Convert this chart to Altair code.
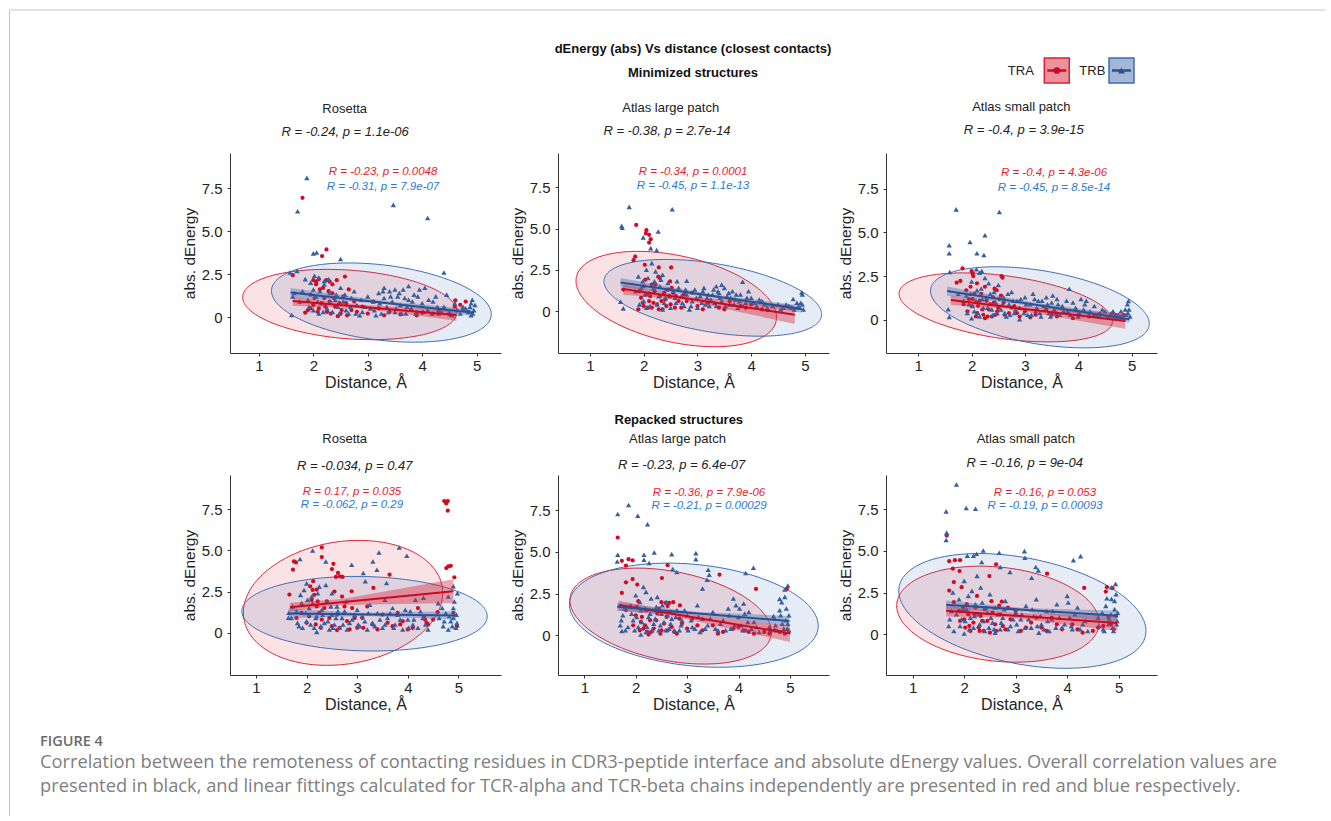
import numpy as np
import pandas as pd
import altair as alt

FONT = "Liberation Sans"
CAP_FONT = "Open Sans"

# ---------------- data ----------------
series = ["TRA", "TRB"]
panel_titles = ["Rosetta", "Atlas  large patch", "Atlas small patch",
                "Rosetta", "Atlas  large patch", "Atlas small patch"]
overall_r = ["R = -0.24, p = 1.1e-06", "R = -0.38, p = 2.7e-14", "R = -0.4, p = 3.9e-15",
             "R = -0.034, p = 0.47", "R = -0.23, p = 6.4e-07", "R = -0.16, p = 9e-04"]
tra_r = ["R = -0.23, p = 0.0048", "R = -0.34, p = 0.0001", "R = -0.4, p = 4.3e-06",
         "R = 0.17, p = 0.035", "R = -0.36, p = 7.9e-06", "R = -0.16, p = 0.053"]
trb_r = ["R = -0.31, p = 7.9e-07", "R = -0.45, p = 1.1e-13", "R = -0.45, p = 8.5e-14",
         "R = -0.062, p = 0.29", "R = -0.21, p = 0.00029", "R = -0.19, p = 0.00093"]

x_ticks = [1, 2, 3, 4, 5]
y_ticks = [0, 2.5, 5, 7.5]
x_domains = [(0.467, 5.449), (0.405, 5.447), (0.395, 5.475),
             (0.486, 5.842), (0.488, 5.760), (0.482, 5.744)]
y_domains = [(-2.093, 9.535), (-2.545, 9.576), (-1.886, 9.543),
             (-2.571, 9.587), (-2.377, 9.599), (-2.437, 9.539)]

# points (distance, abs dEnergy)
tra_p1 = [(1.80,6.93),(2.24,3.93),(2.16,3.54),(2.58,2.35),(2.24,2.14),(2.43,2.14),(2.0,2.14),(2.1,2.2),
          (2.35,1.38),(1.85,0.25),(4.61,0.97),(1.62,2.43),(2.05,1.9),(2.12,1.6),(2.2,1.1),(2.3,0.9),
          (2.0,0.7),(2.1,0.5),(2.25,0.3),(2.4,0.6),(2.5,0.2),(2.6,0.8),(2.7,0.4),(2.55,1.2),(2.8,0.3),
          (2.9,0.6),(3.0,0.2),(3.2,0.5),(3.4,0.3),(3.6,0.15),(3.8,0.4),(4.0,0.25),(4.2,0.2),(4.4,0.5),
          (4.6,0.6),(4.7,0.7),(4.8,0.9),(4.85,0.3),(1.95,1.3),(2.15,0.8),(2.35,1.9),(1.9,0.4),
          (2.45,0.05),(3.1,0.9),(2.65,1.6),(4.75,0.45),
          (1.95,0.5),(2.02,1.1),(2.08,0.3),(2.18,1.7),(2.22,0.6),(2.28,1.5),(2.32,0.2),(2.38,1.1),
          (2.48,0.8),(2.52,0.4),(2.62,0.1),(2.75,0.9),(2.05,2.05),(2.3,2.05),(3.3,0.1),(3.9,0.1),
          (4.3,0.35),(4.5,0.15)]
trb_p1 = [(1.88,8.09),(1.71,6.15),(3.47,6.52),(4.1,5.76),(2.0,3.70),(2.06,3.75),(2.50,3.37),(1.57,2.59),
          (1.70,2.68),(4.4,2.59),(1.6,0.12),(1.95,2.0),(2.0,1.6),(2.05,1.2),(2.1,2.3),(2.15,0.8),
          (2.2,1.9),(2.25,0.5),(2.3,1.4),(2.35,0.3),(2.4,1.0),(2.45,0.6),(2.5,1.7),(1.9,1.0),(2.0,0.4),
          (2.1,0.2),(2.2,2.1),(2.3,0.9),(2.6,0.4),(2.7,1.1),(2.8,0.7),(2.9,0.3),(3.0,1.2),(3.05,0.5),
          (3.1,0.9),(3.2,1.4),(3.25,0.2),(3.3,1.1),(3.35,0.6),(3.4,1.5),(3.45,0.9),(3.5,0.3),(3.55,1.2),
          (3.6,0.7),(3.65,1.6),(3.7,0.2),(3.75,1.0),(3.8,0.5),(3.85,1.3),(3.9,0.3),(4.0,0.8),(4.05,1.7),
          (4.1,0.4),(4.2,0.9),(4.3,0.2),(4.4,0.6),(4.5,0.3),(4.6,0.8),(4.7,0.2),(4.8,0.5),(4.9,0.1),
          (4.92,1.0),(4.95,0.4),(4.97,0.7),(4.9,0.8),(3.3,1.7),(3.5,1.6),(3.75,1.8),(3.95,1.6),
          (2.55,0.9),(2.65,0.2),(2.75,1.5),(1.8,1.5),(1.65,1.4),(2.85,0.1),(3.15,0.1),(4.45,1.3),(4.25,1.2),
          (1.62,1.2),(1.75,0.9),(1.85,2.2),(1.92,0.6),(2.02,2.4),(2.08,0.9),(2.12,1.5),(2.18,0.3),
          (2.28,2.2),(2.42,1.3),(2.48,0.2),(2.58,1.3),(2.68,0.6),(2.78,0.2),(2.88,1.0),(2.95,0.6),
          (3.12,0.4),(3.22,0.8),(3.28,1.5),(3.38,0.3),(3.42,1.2),(3.52,0.5),(3.58,1.4),(3.62,0.2),
          (3.68,1.1),(3.72,0.6),(3.82,0.9),(3.88,0.2),(3.92,1.2),(4.02,0.3),(4.12,1.0),(4.18,0.2),
          (4.28,0.6),(4.35,0.3),(4.55,0.1),(4.65,0.4),(4.75,0.6),(4.85,0.3),(4.88,0.6),(4.93,0.2)]

tra_p2 = [(1.86,5.22),(2.05,4.9),(2.04,4.7),(2.1,4.62),(2.13,4.35),(2.1,4.15),(1.84,3.29),(1.81,3.08),
          (2.02,2.8),(2.28,2.64),(2.51,2.64),(2.27,2.08),(2.49,1.79),(1.62,1.3),(2.0,1.5),(2.05,1.0),
          (2.1,0.6),(2.15,0.2),(2.2,1.2),(2.25,0.4),(2.3,0.9),(2.35,0.1),(2.4,0.7),(2.0,0.3),(1.95,0.8),
          (2.45,1.3),(2.5,0.4),(2.6,0.9),(2.7,0.2),(2.8,0.6),(2.9,1.1),(3.0,0.3),(3.2,0.5),(3.4,0.2),
          (3.6,0.6),(3.8,0.3),(4.0,0.4),(4.2,0.1),(4.4,0.3),(4.6,0.2),(4.8,0.1),(2.15,1.6),(2.3,2.0),
          (1.9,0.1),(2.55,1.1),
          (1.92,1.2),(1.98,0.5),(2.03,1.9),(2.08,0.2),(2.12,0.9),(2.18,0.5),(2.22,1.6),(2.28,0.1),
          (2.33,0.6),(2.38,1.1),(2.42,0.3),(2.48,0.9),(2.52,1.4),(2.58,0.2),(2.65,0.6),(2.75,1.0),
          (3.1,0.1),(3.5,0.1),(3.9,0.2),(4.3,0.05),(4.7,0.25)]
trb_p2 = [(1.73,6.31),(2.53,6.17),(1.59,5.16),(1.6,5.05),(2.27,4.82),(1.99,4.46),(2.13,3.81),(2.24,3.69),
          (1.57,0.56),(1.62,0.16),(2.8,1.83),(3.84,1.77),(4.94,1.13),(4.78,0.73),(4.95,1.0),(1.9,2.1),
          (1.95,1.4),(2.0,0.6),(2.05,2.5),(2.1,1.1),(2.15,2.9),(2.2,1.8),(2.25,0.4),(2.3,1.5),(2.35,2.2),
          (2.4,0.8),(2.45,1.7),(2.5,0.2),(2.55,1.2),(2.6,0.5),(2.65,1.4),(2.7,0.9),(2.75,0.3),(2.8,1.0),
          (2.9,0.6),(2.95,1.3),(3.0,0.2),(3.05,0.9),(3.1,1.2),(3.15,0.4),(3.2,1.0),(3.25,0.7),(3.3,1.3),
          (3.35,0.3),(3.4,1.1),(3.45,0.6),(3.5,1.4),(3.55,0.9),(3.6,0.4),(3.65,1.2),(3.7,0.7),(3.75,0.2),
          (3.8,1.0),(3.9,0.5),(4.0,0.8),(4.1,0.3),(4.2,0.6),(4.3,0.2),(4.5,0.4),(4.6,0.2),(4.7,0.3),
          (4.8,0.1),(4.85,0.5),(4.9,0.2),(4.95,0.4),(4.97,0.1),(3.35,1.5),(3.45,1.6),(2.05,0.2),(2.35,0.1),
          (2.85,0.1),(3.95,1.2),
          (1.85,1.2),(1.92,0.4),(1.98,1.8),(2.02,1.0),(2.08,2.0),(2.12,0.3),(2.18,1.4),(2.22,2.4),
          (2.28,0.9),(2.32,1.9),(2.38,0.5),(2.42,1.3),(2.48,0.9),(2.58,0.8),(2.62,1.8),(2.72,0.5),
          (2.78,1.3),(2.88,0.3),(2.98,0.8),(3.08,0.5),(3.12,1.4),(3.18,0.8),(3.22,0.3),(3.28,1.0),
          (3.32,0.5),(3.38,1.2),(3.42,0.8),(3.52,0.3),(3.58,1.1),(3.62,0.8),(3.68,0.4),(3.72,1.0),
          (3.78,0.6),(3.85,0.3),(3.92,0.8),(4.05,0.5),(4.15,0.7),(4.25,0.4),(4.4,0.3),(4.55,0.1),
          (4.65,0.4),(4.75,0.2),(4.88,0.3),(4.92,0.5)]

tra_p3 = [(1.83,2.95),(2.0,2.8),(2.02,2.65),(2.03,2.51),(2.56,2.51),(2.58,2.42),(2.43,1.79),(2.47,1.7),
          (1.79,2.23),(1.72,2.13),(4.63,0.36),(1.9,1.7),(1.95,1.2),(2.0,0.8),(2.05,1.5),(2.1,0.4),
          (2.15,1.1),(2.2,0.6),(2.25,1.9),(2.3,0.2),(2.35,0.9),(2.4,1.3),(2.45,0.3),(2.5,0.7),(2.6,1.0),
          (2.7,0.4),(2.8,0.8),(2.9,0.2),(3.0,0.5),(3.2,0.3),(3.4,0.6),(3.6,0.2),(3.8,0.4),(4.0,0.3),
          (4.2,0.2),(4.4,0.35),(4.7,0.3),(4.8,0.2),(2.1,2.1),(1.85,0.9),(2.25,0.1),(2.55,1.4),
          (1.92,0.5),(1.98,1.9),(2.02,1.2),(2.08,0.2),(2.12,0.8),(2.18,1.5),(2.22,0.3),(2.28,1.1),
          (2.32,0.6),(2.38,0.2),(2.42,1.0),(2.48,0.5),(2.52,1.2),(2.62,0.3),(2.75,0.7),(2.85,0.4),
          (3.1,0.15),(3.5,0.3),(3.9,0.1),(4.3,0.25),(4.55,0.15),(4.85,0.3)]
trb_p3 = [(1.71,6.32),(2.52,6.17),(1.58,4.27),(1.58,3.81),(2.25,4.84),(1.97,4.46),(2.1,3.81),(2.23,3.71),
          (1.56,0.61),(1.58,0.17),(3.83,1.79),(4.94,1.09),(2.09,2.9),(2.19,2.8),(1.59,2.74),(1.9,1.4),
          (1.95,0.9),(2.0,2.2),(2.05,0.5),(2.1,1.7),(2.15,0.2),(2.2,1.2),(2.25,2.4),(2.3,0.7),(2.35,1.5),
          (2.4,0.3),(2.45,1.0),(2.5,2.0),(2.55,0.6),(2.6,1.3),(2.65,0.2),(2.7,0.9),(2.75,1.6),(2.8,0.4),
          (2.85,1.1),(2.9,0.7),(3.0,1.3),(3.05,0.3),(3.1,0.9),(3.15,1.5),(3.2,0.5),(3.25,1.1),(3.3,0.2),
          (3.35,0.8),(3.4,1.3),(3.45,0.4),(3.5,1.0),(3.55,0.6),(3.6,1.2),(3.65,0.3),(3.7,0.8),(3.8,0.5),
          (3.9,1.0),(4.0,0.2),(4.05,1.2),(4.1,0.6),(4.2,0.3),(4.3,0.8),(4.4,0.2),(4.5,0.5),(4.6,0.3),
          (4.7,0.2),(4.8,0.5),(4.85,0.1),(4.9,0.3),(4.95,0.6),(4.97,0.2),(4.92,0.9),(2.15,2.7),(1.75,1.5),
          (2.0,0.1),(2.9,0.05),(4.15,1.1),
          (1.85,1.1),(1.92,0.4),(1.98,1.5),(2.02,0.8),(2.08,1.1),(2.12,0.4),(2.18,1.8),(2.22,0.7),
          (2.28,1.3),(2.32,2.1),(2.38,0.6),(2.42,1.6),(2.48,0.4),(2.58,0.9),(2.62,0.4),(2.68,1.5),
          (2.72,0.3),(2.78,1.1),(2.82,0.6),(2.92,1.2),(2.98,0.4),(3.02,0.9),(3.12,0.3),(3.18,1.2),
          (3.22,0.7),(3.28,0.4),(3.32,1.1),(3.38,0.6),(3.42,0.9),(3.48,0.2),(3.52,1.4),(3.58,0.4),
          (3.62,0.9),(3.72,0.5),(3.78,1.1),(3.85,0.3),(3.95,0.7),(4.02,0.4),(4.12,0.9),(4.22,0.5),
          (4.35,0.3),(4.45,0.6),(4.55,0.2),(4.65,0.5),(4.75,0.3),(4.82,0.15),(4.88,0.6),(4.93,0.4)]

tra_p4 = [(4.72,8.0),(4.79,8.0),(4.76,7.86),(4.79,7.42),(4.8,4.03),(4.85,4.07),(4.76,3.93),(4.92,3.37),
          (2.30,5.18),(2.3,4.6),(1.75,4.33),(1.79,4.27),(1.73,3.83),(2.53,4.19),(2.5,3.87),(2.62,3.63),
          (2.66,3.43),(2.71,3.39),(2.58,3.39),(3.64,3.53),(3.32,2.72),(2.89,2.52),(2.13,3.13),(2.07,2.82),
          (2.2,2.62),(1.66,2.32),(4.59,1.25),(4.32,1.0),(4.34,0.8),(4.37,0.6),(3.85,0.5),(3.12,0.3),
          (2.6,0.16),(4.97,0.4),(2.1,2.0),(2.2,1.6),(2.15,2.3),(2.25,1.2),(2.3,0.8),(2.4,1.9),(2.5,0.4),
          (2.6,1.1),(2.7,2.2),(2.8,0.7),(2.9,1.5),(3.0,0.3),(3.1,0.9),(3.3,0.5),(3.5,1.1),(3.7,0.4),
          (3.9,0.7),(4.1,0.3),(4.2,1.5),(1.9,1.2),(2.0,0.6),(1.8,0.9),
          (2.05,1.0),(2.12,2.6),(2.18,0.5),(2.22,1.9),(2.28,0.3),(2.35,1.5),(2.45,0.9),(2.55,2.5),
          (2.65,0.3),(2.75,1.6),(2.85,0.2),(2.95,0.9),(3.2,1.6),(3.4,0.2),(3.6,0.6),(3.8,1.2),
          (4.0,0.2),(4.4,0.5),(4.5,0.8),(4.9,1.2)]
trb_p4 = [(2.12,5.0),(2.38,4.33),(1.87,4.48),(3.43,4.88),(3.83,5.18),(3.98,4.68),(3.31,4.33),(3.39,3.83),
          (3.12,3.63),(2.89,4.13),(3.16,3.13),(3.58,3.02),(4.31,2.12),(4.9,2.82),(1.64,0.91),(1.65,1.21),
          (1.7,0.9),(1.8,1.3),(1.85,0.4),(1.9,1.8),(1.95,2.6),(2.0,0.7),(2.05,1.5),(2.1,2.2),(2.15,0.3),
          (2.2,1.0),(2.25,2.8),(2.3,1.4),(2.35,0.6),(2.4,1.9),(2.45,0.2),(2.5,1.1),(2.55,0.5),(2.6,1.6),
          (2.65,0.3),(2.7,0.9),(2.75,1.3),(2.8,0.2),(2.9,0.8),(3.0,1.4),(3.05,0.4),(3.1,1.0),(3.2,0.2),
          (3.25,1.7),(3.3,0.6),(3.4,1.2),(3.5,0.3),(3.6,0.9),(3.7,1.5),(3.75,0.5),(3.8,1.1),(3.9,0.2),
          (4.0,0.8),(4.05,1.3),(4.1,0.5),(4.15,2.0),(4.2,0.3),(4.3,0.9),(4.4,0.2),(4.6,1.8),(4.7,0.4),
          (4.75,1.2),(4.8,2.2),(4.85,0.7),(4.9,1.5),(4.95,0.3),(4.98,2.4),(4.9,0.9),(4.8,0.2),(2.2,0.05),
          (2.5,2.4),(3.55,2.0),(2.0,3.0),
          (1.72,1.6),(1.82,0.6),(1.88,2.3),(1.92,0.3),(1.98,1.2),(2.02,2.0),(2.08,0.5),(2.12,1.8),
          (2.18,0.9),(2.22,2.4),(2.28,0.4),(2.32,1.1),(2.38,2.9),(2.42,0.7),(2.48,1.6),(2.52,0.3),
          (2.58,0.9),(2.62,1.3),(2.72,0.5),(2.78,1.9),(2.85,0.6),(2.95,1.1),(3.02,0.5),(3.15,0.7),
          (3.22,1.2),(3.35,0.4),(3.45,0.8),(3.55,0.5),(3.65,1.2),(3.72,0.3),(3.85,0.8),(3.95,1.4),
          (4.02,0.3),(4.12,0.8),(4.25,1.3),(4.35,0.5),(4.62,0.9),(4.68,1.5),(4.72,0.7),(4.82,1.0),
          (4.88,0.4),(4.92,1.9),(4.96,1.1),(4.97,0.6)]

tra_p5 = [(1.65,5.85),(1.73,4.46),(1.86,4.56),(1.94,4.48),(1.81,4.17),(2.62,4.2),(2.51,3.43),(3.63,3.63),
          (4.34,2.78),(4.94,2.78),(1.81,3.17),(1.94,3.37),(2.03,3.04),(1.73,2.54),(2.05,2.04),(2.5,1.98),
          (2.58,1.94),(2.65,1.94),(2.73,1.98),(2.86,1.79),(2.62,1.75),(1.81,1.51),(2.0,1.2),(2.1,0.8),
          (2.15,0.4),(2.2,1.5),(2.3,0.2),(2.4,0.9),(2.5,0.3),(2.6,1.1),(2.7,0.5),(2.8,0.1),(2.9,0.7),
          (3.0,0.4),(3.1,1.0),(3.3,0.3),(3.5,0.6),(3.7,0.2),(3.9,0.4),(4.1,0.3),(4.3,0.1),(4.5,0.2),
          (4.7,0.3),(4.9,0.1),(2.45,1.6),(2.25,0.05),
          (1.95,0.6),(2.02,1.7),(2.08,0.3),(2.12,1.1),(2.18,0.6),(2.22,0.2),(2.28,0.9),(2.35,0.4),
          (2.42,1.3),(2.48,0.1),(2.55,0.7),(2.62,0.3),(2.68,1.4),(2.75,0.2),(2.85,1.0),(3.2,0.6),
          (3.6,0.1),(4.0,0.5),(4.2,0.2),(4.6,0.1),(4.8,0.2)]
trb_p5 = [(1.86,7.8),(1.65,7.26),(2.04,7.16),(2.23,6.65),(1.65,4.82),(1.64,4.42),(2.16,4.52),(2.36,4.96),
          (2.70,4.86),(3.17,4.92),(3.17,4.56),(2.16,4.82),(2.26,4.33),(2.72,3.97),(2.8,3.79),(3.41,3.93),
          (3.43,3.63),(3.39,3.33),(3.3,2.8),(4.14,3.73),(4.29,4.05),(4.96,2.98),(4.9,2.74),(4.8,2.18),
          (4.84,1.98),(4.68,1.15),(1.73,0.26),(1.7,0.6),(1.75,1.2),(1.8,0.3),(1.9,1.8),(1.95,0.9),
          (2.0,2.4),(2.05,0.5),(2.1,1.5),(2.15,2.9),(2.2,0.2),(2.25,1.1),(2.3,2.2),(2.35,0.7),(2.4,1.7),
          (2.45,0.3),(2.5,1.3),(2.55,0.8),(2.6,2.0),(2.65,0.4),(2.7,1.0),(2.8,1.5),(2.85,0.3),(2.9,0.9),
          (3.0,1.2),(3.1,0.5),(3.2,1.8),(3.25,0.2),(3.3,1.0),(3.4,0.6),(3.5,1.4),(3.6,0.3),(3.7,0.9),
          (3.8,1.6),(3.85,0.4),(3.9,2.2),(4.0,1.1),(4.05,0.6),(4.1,1.9),(4.15,0.3),(4.2,1.4),(4.3,0.8),
          (4.4,0.2),(4.6,0.5),(4.7,1.0),(4.75,0.3),(4.8,1.5),(4.85,0.7),(4.9,2.3),(4.95,0.4),(4.98,1.2),
          (4.92,0.9),(4.97,0.2),(2.2,2.6),(2.1,0.05),(3.95,1.8),
          (1.72,0.9),(1.78,1.6),(1.85,0.5),(1.92,1.3),(1.98,0.3),(2.02,1.1),(2.08,2.0),(2.12,0.8),
          (2.18,1.6),(2.22,0.5),(2.28,1.3),(2.32,0.3),(2.38,1.0),(2.42,2.3),(2.48,0.6),(2.52,1.8),
          (2.58,0.3),(2.62,1.2),(2.68,0.7),(2.75,0.3),(2.78,1.1),(2.88,0.6),(2.95,1.5),(3.02,0.3),
          (3.08,0.9),(3.15,0.4),(3.22,1.1),(3.35,0.4),(3.45,1.0),(3.55,0.4),(3.65,0.7),(3.75,0.3),
          (3.82,1.2),(3.92,0.6),(4.02,1.6),(4.08,0.3),(4.12,1.3),(4.18,0.8),(4.25,0.4),(4.35,0.5),
          (4.62,0.3),(4.72,0.6),(4.82,1.2),(4.88,0.4),(4.93,1.6),(4.96,0.7),(4.98,0.3)]

tra_p6 = [(1.66,5.91),(1.71,4.38),(1.82,4.44),(1.92,4.44),(1.78,3.93),(1.91,3.79),(2.62,4.19),(2.49,3.49),
          (3.61,3.63),(4.33,2.78),(4.77,2.82),(4.75,2.56),(4.88,2.76),(1.8,3.13),(1.95,2.82),(1.71,2.62),
          (1.8,1.92),(2.53,1.98),(2.73,1.96),(2.68,1.71),(1.9,1.4),(2.0,0.9),(2.05,1.8),(2.1,0.5),
          (2.2,1.2),(2.3,0.2),(2.35,0.8),(2.4,1.5),(2.5,0.1),(2.6,0.6),(2.7,1.2),(2.8,0.3),(2.9,0.9),
          (3.0,1.4),(3.1,0.2),(3.3,0.7),(3.5,0.4),(3.7,1.0),(3.9,0.3),(4.1,0.6),(4.3,0.1),(4.5,0.2),
          (4.7,0.5),(4.9,0.3),(4.8,1.0),(2.25,2.3),
          (1.92,0.8),(1.98,1.6),(2.02,0.4),(2.08,1.2),(2.12,0.2),(2.18,0.7),(2.22,1.6),(2.28,0.4),
          (2.32,1.1),(2.38,0.2),(2.45,0.8),(2.55,1.3),(2.62,0.2),(2.75,0.5),(2.85,1.6),(3.2,0.4),
          (3.4,1.0),(3.6,0.2),(3.8,0.6),(4.2,0.3),(4.6,0.4),(4.85,0.6),(4.95,1.1)]
trb_p6 = [(1.85,8.97),(1.65,7.36),(2.04,7.56),(2.22,7.52),(1.66,6.09),(1.65,5.65),(2.37,5.02),(3.17,4.98),
          (2.68,4.88),(2.06,4.7),(2.18,4.7),(2.24,4.82),(3.18,4.58),(4.12,4.44),(4.26,4.68),(2.34,4.33),
          (2.7,4.03),(2.89,3.73),(3.39,4.03),(3.44,3.83),(3.31,3.39),(4.94,3.02),(4.86,2.82),(4.77,2.16),
          (4.86,2.12),(1.7,0.5),(1.75,1.4),(1.8,0.2),(1.9,2.1),(1.95,0.9),(2.0,3.2),(2.05,1.5),(2.1,0.3),
          (2.15,2.6),(2.2,1.1),(2.25,3.5),(2.3,0.6),(2.35,1.9),(2.4,0.2),(2.45,1.3),(2.5,2.4),(2.55,0.7),
          (2.6,1.6),(2.7,0.3),(2.75,1.0),(2.8,2.0),(2.9,0.5),(3.0,1.3),(3.05,0.2),(3.1,0.9),(3.2,1.7),
          (3.3,0.4),(3.35,1.1),(3.4,2.1),(3.5,0.6),(3.6,1.4),(3.65,0.2),(3.7,0.9),(3.8,1.8),(3.9,0.4),
          (4.0,2.3),(4.05,1.0),(4.1,0.3),(4.2,1.6),(4.3,0.6),(4.4,0.2),(4.6,1.0),(4.7,0.3),(4.75,1.7),
          (4.8,0.6),(4.85,1.2),(4.9,0.2),(4.95,2.4),(4.97,0.8),(4.92,1.5),(2.0,0.05),(2.6,0.1),(3.45,0.1),
          (1.72,0.9),(1.78,2.5),(1.85,1.2),(1.92,0.5),(1.98,1.5),(2.02,0.8),(2.08,2.3),(2.12,1.0),
          (2.18,0.4),(2.22,1.8),(2.28,1.2),(2.32,2.8),(2.38,0.8),(2.42,1.6),(2.48,0.4),(2.52,1.0),
          (2.58,0.3),(2.65,1.2),(2.72,0.7),(2.78,1.5),(2.85,0.3),(2.95,0.9),(3.02,0.6),(3.12,1.2),
          (3.18,0.4),(3.25,0.9),(3.32,1.5),(3.42,0.5),(3.48,1.1),(3.55,0.3),(3.62,0.8),(3.72,1.4),
          (3.78,0.4),(3.85,1.0),(3.95,0.6),(4.02,1.9),(4.08,0.5),(4.15,1.2),(4.25,0.3),(4.35,0.8),
          (4.62,0.5),(4.68,1.3),(4.72,0.2),(4.82,0.9),(4.88,0.4),(4.92,2.0),(4.96,0.6),(4.98,1.3)]

tra_points = [tra_p1, tra_p2, tra_p3, tra_p4, tra_p5, tra_p6]
trb_points = [trb_p1, trb_p2, trb_p3, trb_p4, trb_p5, trb_p6]

# 95% data ellipses: leftmost point, rightmost point, vertical half-height at centre
tra_ellipse = [((0.70, 1.15), (4.64, 0.30), 2.00), ((0.74, 1.83), (4.47, -0.38), 2.67),
               ((0.64, 1.50), (4.64, -0.06), 1.81), ((0.75, 1.21), (4.69, 2.42), 3.75),
               ((0.72, 2.10), (4.64, 0.20), 2.71), ((0.69, 1.71), (4.62, 0.70), 2.83)]
trb_ellipse = [((1.23, 1.52), (5.27, 0.16), 2.20), ((1.26, 1.80), (5.31, -0.20), 2.10),
               ((1.23, 1.66), (5.33, -0.21), 2.12), ((0.72, 1.31), (5.57, 1.00), 2.26),
               ((0.71, 1.85), (5.55, 0.56), 3.05), ((0.73, 2.60), (5.53, 0.20), 3.22)]

# linear fits: (x0, y0, x1, y1) and confidence band at start / middle / end
tra_fit = [(1.62, 0.93, 4.63, 0.12), (1.62, 1.33, 4.81, -0.22), (1.61, 1.14, 4.88, -0.06),
           (1.67, 1.55, 4.90, 2.52), (1.67, 1.81, 5.00, 0.12), (1.65, 1.41, 4.97, 0.67)]
trb_fit = [(1.58, 1.42, 4.95, 0.25), (1.57, 1.73, 4.94, 0.12), (1.54, 1.66, 4.96, 0.04),
           (1.64, 1.17, 4.95, 1.05), (1.64, 1.71, 4.99, 0.85), (1.65, 1.77, 4.97, 1.11)]
tra_band_x = [(1.62, 2.9, 4.63), (1.62, 2.7, 4.81), (1.61, 2.7, 4.88),
              (1.67, 2.7, 4.90), (1.67, 2.8, 5.00), (1.65, 2.9, 4.97)]
tra_band_lo = [(0.66, 0.50, -0.22), (0.99, 0.70, -0.79), (0.86, 0.64, -0.50),
               (1.30, 1.68, 1.80), (1.50, 1.10, -0.40), (1.06, 1.00, 0.20)]
tra_band_hi = [(1.18, 0.70, 0.45), (1.62, 0.92, 0.35), (1.40, 0.86, 0.36),
               (1.82, 2.05, 3.25), (2.08, 1.35, 0.58), (1.76, 1.30, 1.10)]
trb_band_x = [(1.58, 3.3, 4.95), (1.57, 3.2, 4.94), (1.54, 3.2, 4.96),
              (1.64, 3.1, 4.95), (1.64, 3.2, 4.99), (1.65, 3.2, 4.97)]
trb_band_lo = [(1.15, 0.75, 0.05), (1.45, 0.85, -0.10), (1.38, 0.78, -0.16),
               (0.88, 1.02, 0.80), (1.45, 1.20, 0.56), (1.50, 1.35, 0.70)]
trb_band_hi = [(1.69, 0.95, 0.45), (2.00, 1.05, 0.34), (1.92, 0.98, 0.26),
               (1.45, 1.22, 1.30), (1.96, 1.40, 1.16), (2.03, 1.56, 1.42)]

header_title = "dEnergy (abs) Vs distance (closest contacts)"
row_titles = ["Minimized structures", "Repacked structures"]
fig_label = "FIGURE 4"
caption_lines = [
    "Correlation between the remoteness of contacting residues in CDR3-peptide interface and absolute dEnergy values. Overall correlation values are",
    "presented in black, and linear fittings calculated for TCR-alpha and TCR-beta chains independently are presented in red and blue respectively.",
]

# ---------------- styling / layout ----------------
point_color = {"TRA": "#d30a24", "TRB": "#35609f"}
line_color = {"TRA": "#c80a22", "TRB": "#2c5190"}
band_color = {"TRA": "#d8253a", "TRB": "#4a6fae"}
ell_color = {"TRA": "#de2033", "TRB": "#3b6db3"}
text_color = {"TRA": "#ec1b2e", "TRB": "#2b7bd1"}
shape = {"TRA": "circle", "TRB": "triangle-up"}
psize = {"TRA": 18, "TRB": 28}

W, H = 271, 200
title_pos = [(114.7, -43.7, 115.2, -20.7), (112.7, -45.3, 109.0, -22.0), (135.3, -46.0, 137.7, -22.7),
             (114.7, -36.3, 124.7, -9.0), (119.5, -35.7, 123.7, -9.7), (139.8, -36.3, 138.7, -12.3)]
corr_pos = [(153, 19, 34), (135, 19, 33), (168, 20, 35), (122, 17, 30), (151, 18, 31), (159, 18, 31)]


def text_layer(label, x, y, size, color, weight="normal", style="normal", align="center", font=FONT):
    df = pd.DataFrame({"label": [label]})
    return alt.Chart(df).mark_text(
        align=align, baseline="middle", font=font, fontSize=size,
        fontWeight=weight, fontStyle=style, color=color
    ).encode(x=alt.value(x), y=alt.value(y), text="label:N")


def ellipse_df(spec):
    (xl, yl), (xr, yr), b = spec
    cx, cy = (xl + xr) / 2, (yl + yr) / 2
    a = (xr - xl) / 2
    s = (yr - yl) / (xr - xl)
    t = np.linspace(0, np.pi, 121)
    xs = cx + a * np.cos(t)
    mid = cy + s * (xs - cx)
    return pd.DataFrame({"x": xs, "y": mid - b * np.sin(t), "y2": mid + b * np.sin(t)})


def panel(i):
    xs = alt.Scale(domain=list(x_domains[i]), nice=False, zero=False)
    ys = alt.Scale(domain=list(y_domains[i]), nice=False, zero=False)
    xa = alt.Axis(title="Distance, Å", values=x_ticks, grid=False, tickSize=3, labelPadding=2,
                  titlePadding=1, domainColor="#333333", tickColor="#333333", labelColor="#222222",
                  titleColor="#222222", labelFontSize=15, titleFontSize=16, titleFontWeight="normal",
                  labelFont=FONT, titleFont=FONT, format="d", domainWidth=1)
    ya = alt.Axis(title="abs. dEnergy", values=y_ticks, grid=False, tickSize=3, labelPadding=5,
                  titlePadding=4, domainColor="#333333", tickColor="#333333", labelColor="#222222",
                  titleColor="#222222", labelFontSize=15, titleFontSize=15.5, titleFontWeight="normal",
                  labelFont=FONT, titleFont=FONT, domainWidth=1,
                  labelExpr="datum.value === 0 ? '0' : format(datum.value, '.1f')")
    X = alt.X("x:Q", scale=xs, axis=xa)
    Y = alt.Y("y:Q", scale=ys, axis=ya)

    layers = []
    ells = {"TRA": tra_ellipse[i], "TRB": trb_ellipse[i]}
    pts = {"TRA": tra_points[i], "TRB": trb_points[i]}
    fits = {"TRA": tra_fit[i], "TRB": trb_fit[i]}
    bands = {"TRA": (tra_band_x[i], tra_band_lo[i], tra_band_hi[i]),
             "TRB": (trb_band_x[i], trb_band_lo[i], trb_band_hi[i])}
    for s in series:
        layers.append(alt.Chart(ellipse_df(ells[s])).mark_area(
            fill=ell_color[s], fillOpacity=0.13, stroke=ell_color[s], strokeWidth=1
        ).encode(x=X, y=Y, y2="y2:Q"))
    for s in series:
        df = pd.DataFrame(pts[s], columns=["x", "y"])
        layers.append(alt.Chart(df).mark_point(
            filled=True, shape=shape[s], size=psize[s], color=point_color[s], opacity=1
        ).encode(x=X, y=Y))
    for s in series:
        bx, blo, bhi = bands[s]
        df = pd.DataFrame({"x": list(bx), "y": list(blo), "y2": list(bhi)})
        layers.append(alt.Chart(df).mark_area(fill=band_color[s], fillOpacity=0.4).encode(
            x=X, y=Y, y2="y2:Q"))
    for s in series:
        x0, y0, x1, y1 = fits[s]
        df = pd.DataFrame({"x": [x0, x1], "y": [y0, y1]})
        layers.append(alt.Chart(df).mark_line(color=line_color[s], strokeWidth=2).encode(x=X, y=Y))

    tx, ty, rx, ry = title_pos[i]
    layers.append(text_layer(panel_titles[i], tx, ty, 13, "#222222"))
    layers.append(text_layer(overall_r[i], rx, ry, 13, "#222222", style="italic"))
    cx, cy1, cy2 = corr_pos[i]
    layers.append(text_layer(tra_r[i], cx, cy1, 11.5, text_color["TRA"], style="italic"))
    layers.append(text_layer(trb_r[i], cx, cy2, 11.5, text_color["TRB"], style="italic"))

    one = pd.DataFrame({"k": [0]})
    if i == 0:
        # page frame
        layers.append(alt.Chart(one).mark_rule(color="#c6c6c6", strokeWidth=1).encode(
            x=alt.value(-220.5), x2=alt.value(1095), y=alt.value(-143)))
        layers.append(alt.Chart(one).mark_rule(color="#c6c6c6", strokeWidth=1).encode(
            x=alt.value(-220.5), y=alt.value(-143), y2=alt.value(663)))
    if i == 1:
        layers.append(text_layer(header_title, 135, -104, 13, "#111111", weight="bold"))
        layers.append(text_layer(row_titles[0], 135, -80, 13, "#111111", weight="bold"))
    if i == 2:
        label_x = {"TRA": 134.8, "TRB": 206.3}
        box_x = {"TRA": 158.3, "TRB": 223.0}
        for s in series:
            bx0 = box_x[s]
            layers.append(text_layer(s, label_x[s], -82, 13, "#222222"))
            layers.append(alt.Chart(one).mark_rect(
                fill=band_color[s], fillOpacity=0.5, stroke=ell_color[s], strokeWidth=1.5
            ).encode(x=alt.value(bx0), x2=alt.value(bx0 + 25), y=alt.value(-95), y2=alt.value(-70)))
            layers.append(alt.Chart(one).mark_rule(color=line_color[s], strokeWidth=2.5).encode(
                x=alt.value(bx0 + 3), x2=alt.value(bx0 + 22), y=alt.value(-82.5)))
            layers.append(alt.Chart(one).mark_point(
                filled=True, shape=shape[s], size=45, color=line_color[s], opacity=1
            ).encode(x=alt.value(bx0 + 12.5), y=alt.value(-82.5)))
    if i == 3:
        layers.append(text_layer(fig_label, -190, 266.7, 14.5, "#6a6a6a", weight=600, align="left", font=CAP_FONT))
        layers.append(text_layer(caption_lines[0], -190, 288.3, 18.3, "#808080", align="left", font=CAP_FONT))
        layers.append(text_layer(caption_lines[1], -190, 311.7, 18.3, "#808080", align="left", font=CAP_FONT))
    if i == 4:
        layers.append(text_layer(row_titles[1], 120.8, -55, 13, "#111111", weight="bold"))

    return alt.layer(*layers).properties(width=W, height=H)


panels = [panel(i) for i in range(6)]
chart = alt.ConcatChart(
    concat=panels, columns=3, spacing={"row": 122, "column": 57}, bounds="flush", align="all"
).properties(
    padding={"left": 9, "top": 9, "right": 0, "bottom": 0},
    autosize=alt.AutoSizeParams(type="pad"),
    background="white",
).configure_view(stroke=None)

chart.save("out.html", embed_options={"renderer": "svg", "actions": False})
